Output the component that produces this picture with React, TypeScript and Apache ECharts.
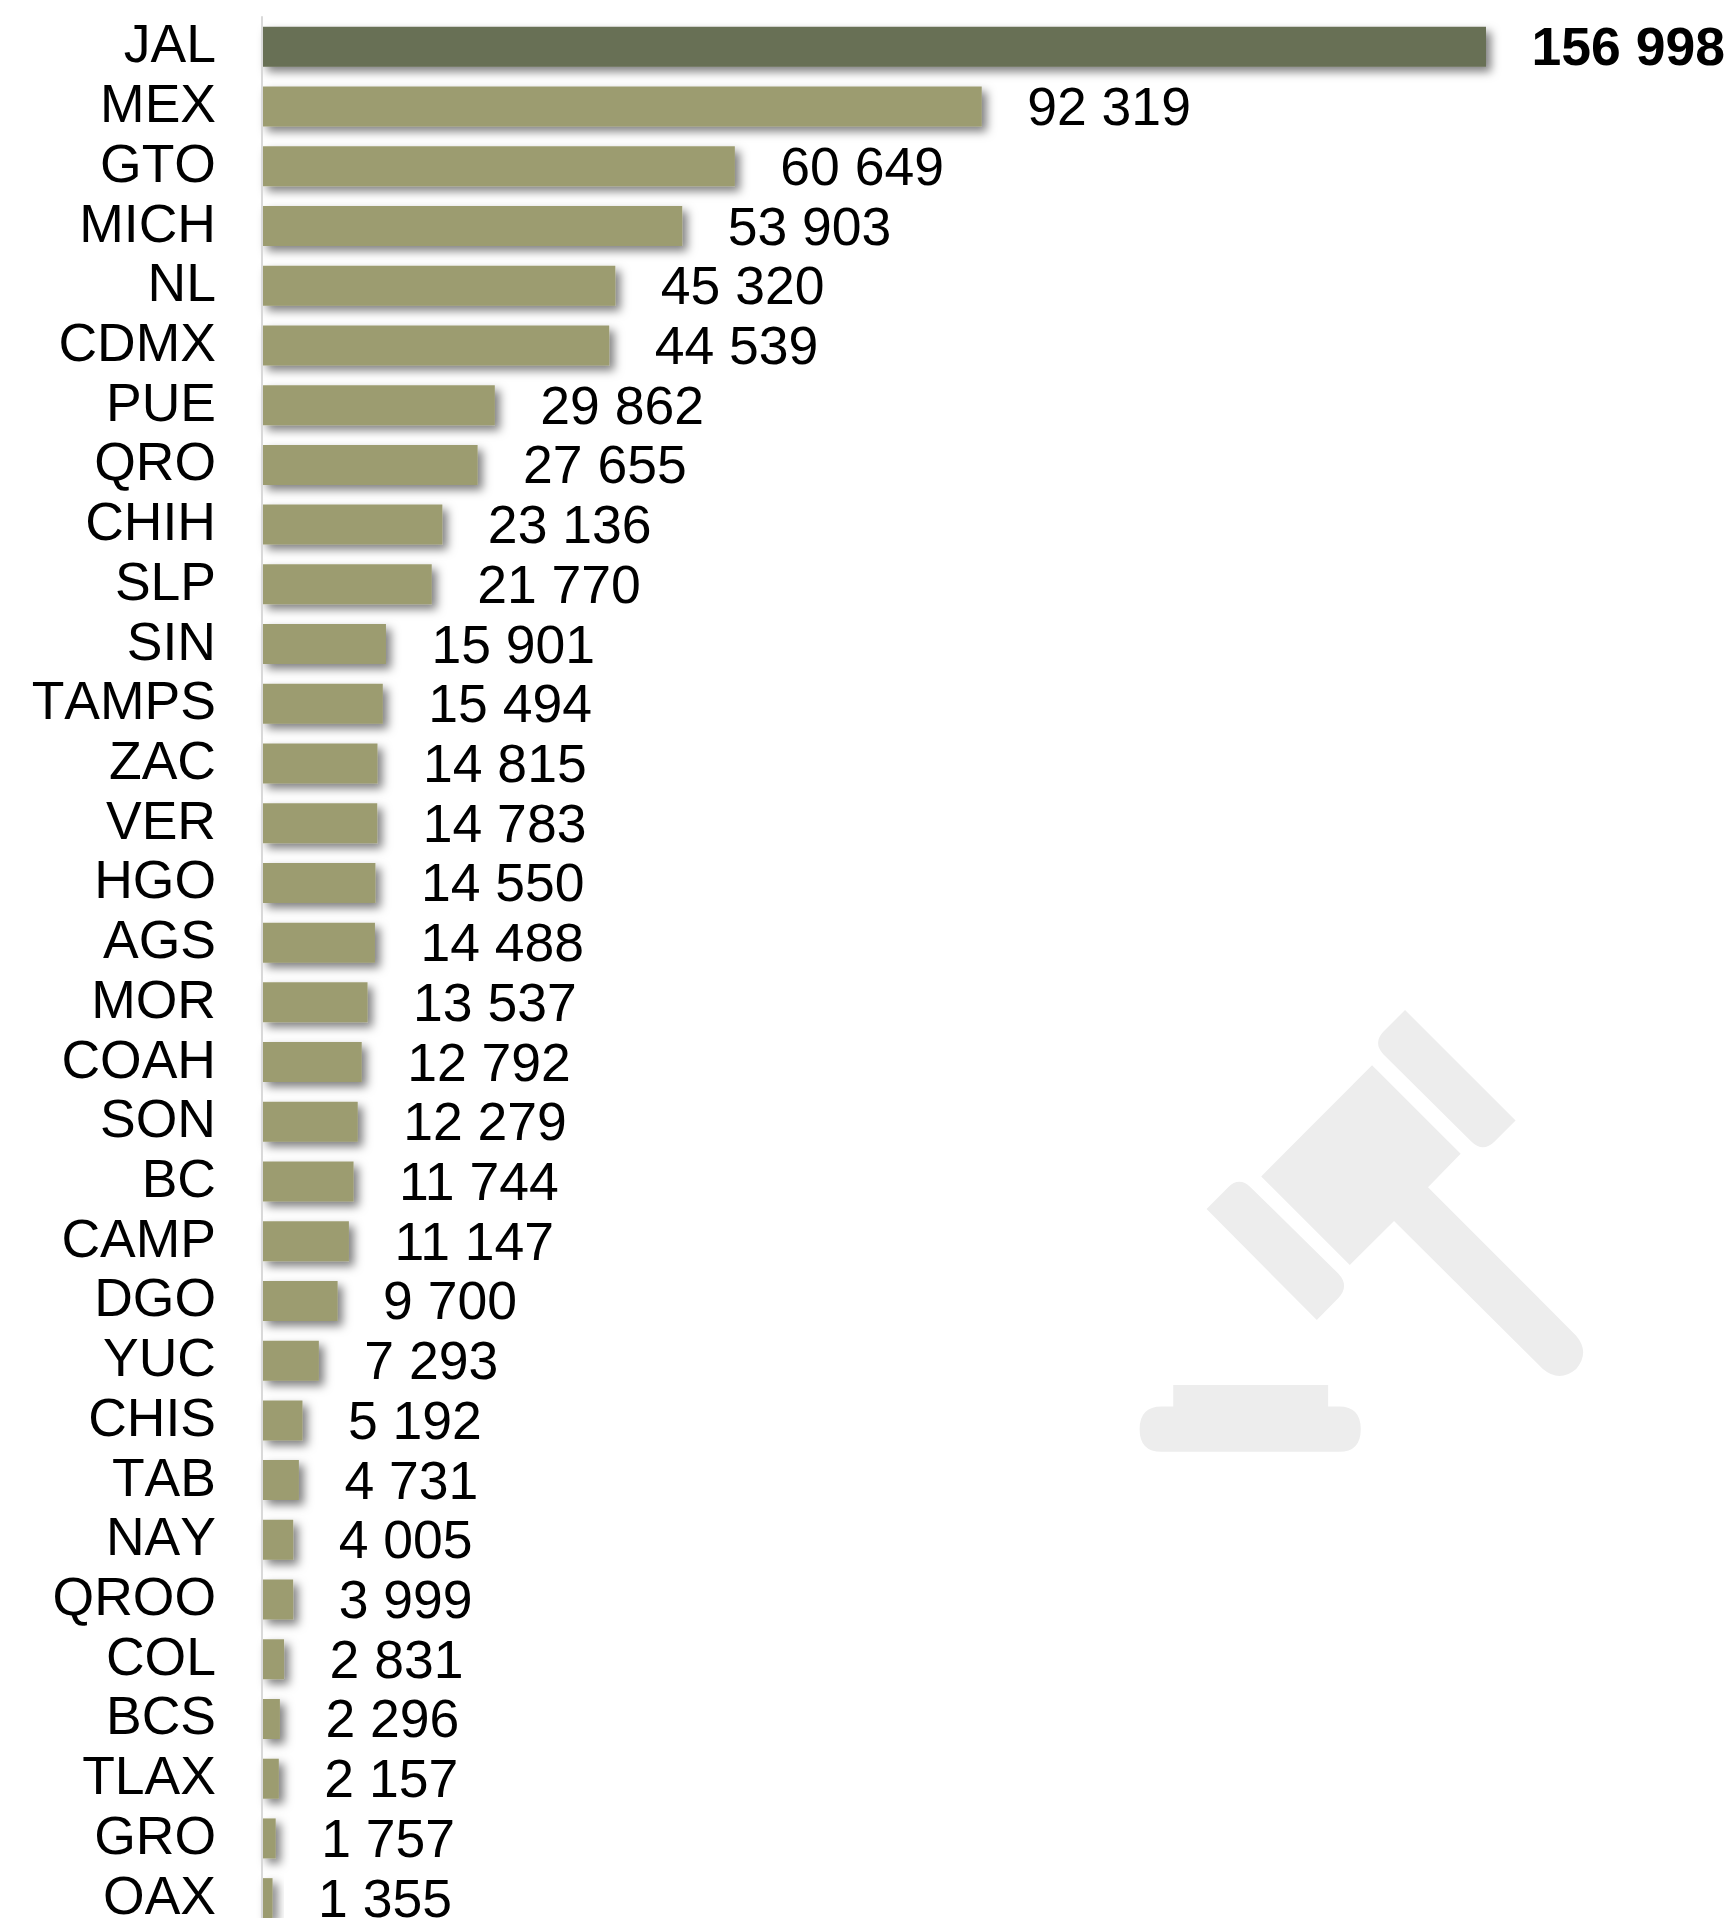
import React, { useEffect, useRef } from "react";
import * as echarts from "echarts";

const categories = ["JAL","MEX","GTO","MICH","NL","CDMX","PUE","QRO","CHIH","SLP","SIN","TAMPS","ZAC","VER","HGO","AGS","MOR","COAH","SON","BC","CAMP","DGO","YUC","CHIS","TAB","NAY","QROO","COL","BCS","TLAX","GRO","OAX"];
const values = [156998,92319,60649,53903,45320,44539,29862,27655,23136,21770,15901,15494,14815,14783,14550,14488,13537,12792,12279,11744,11147,9700,7293,5192,4731,4005,3999,2831,2296,2157,1757,1355];

const GAVEL =
  "M916 90 L1248 422 L1185 485 Q1150 520 1115 485 L850 222 Q820 190 850 156 Z " +
  "M817 256 L1083 522 L985 622 L1430 1068 Q1472 1118 1430 1168 Q1380 1210 1330 1168 L883 724 L750 856 L484 590 Z " +
  "M320 688 L385 622 Q418 590 452 622 L716 882 Q750 918 716 955 L651 1021 Z " +
  "M220 1216 L685 1216 L685 1281 L718 1281 Q783 1281 783 1349 Q783 1417 718 1417 L185 1417 Q119 1417 119 1349 Q119 1281 185 1281 L220 1281 Z";
echarts.graphic.registerShape("gavel", echarts.graphic.extendPath(GAVEL, {}) as any);

const fmt = (v: number) => String(v).replace(/\B(?=(\d{3})+$)/g, " ");

export default function App() {
  const ref = useRef<HTMLDivElement>(null);
  useEffect(() => {
    const chart = echarts.init(ref.current!, undefined, { renderer: "svg" });
    chart.setOption({
      animation: false,
      backgroundColor: "#ffffff",
      textStyle: { fontFamily: "Liberation Sans" },
      grid: { left: 262, top: 17, width: 1224, height: 1911, containLabel: false },
      xAxis: { type: "value", min: 0, max: 156998, show: false },
      yAxis: {
        type: "category",
        inverse: true,
        data: categories,
        z: 3,
        axisLine: { show: true, lineStyle: { color: "#d9d9d9", width: 2 } },
        axisTick: { show: false },
        axisLabel: {
          interval: 0,
          margin: 46,
          color: "#000000",
          fontSize: 53.5,
          fontFamily: "Liberation Sans",
          verticalAlign: "bottom",
          lineHeight: 6,
        },
      },
      graphic: [
        { type: "gavel", x: 1100, y: 980, scaleX: 1 / 3, scaleY: 1 / 3, z: 0, style: { fill: "#ededed" } },
      ],
      series: [
        {
          type: "bar",
          barWidth: 40,
          z: 2,
          data: values.map((v, i) => ({
            value: v,
            itemStyle: { color: i === 0 ? "#676f54" : "#9c9c70" },
            label: i === 0 ? { fontWeight: "bold" } : undefined,
          })),
          itemStyle: {
            shadowColor: "rgba(0,0,0,0.5)",
            shadowBlur: 10,
            shadowOffsetX: 5,
            shadowOffsetY: 5,
          },
          label: {
            show: true,
            position: "right",
            distance: 45.5,
            color: "#000000",
            fontSize: 53.5,
            fontFamily: "Liberation Sans",
            formatter: (p: any) => fmt(p.value),
          },
        },
      ],
    });
    return () => chart.dispose();
  }, []);
  return (
    <div style={{ position: "absolute", left: 0, top: 0, width: 1733, height: 1918, overflow: "hidden", background: "#fff" }}>
      <style>{'svg text[text-anchor="end"]{font-kerning:none}'}</style>
      <div ref={ref} style={{ width: 1733, height: 1940 }} />
    </div>
  );
}
